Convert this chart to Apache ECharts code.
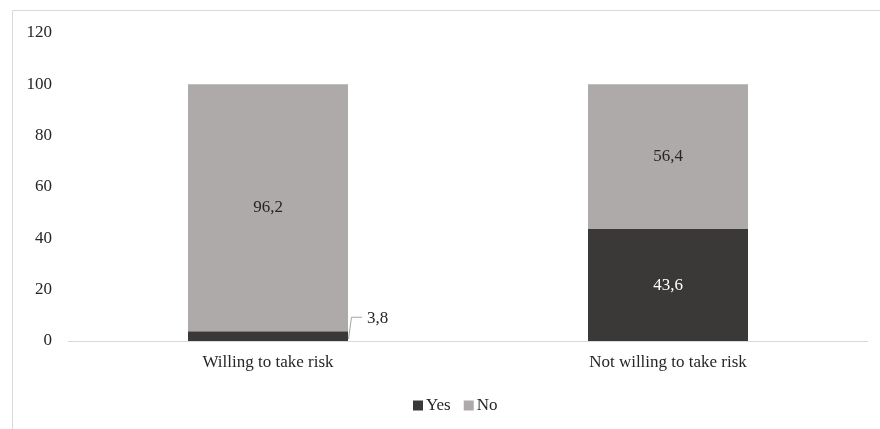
<!DOCTYPE html>
<html>
<head>
<meta charset="utf-8">
<script src="https://cdn.jsdelivr.net/npm/echarts@6/dist/echarts.min.js"></script>
<style>
  html, body { margin: 0; padding: 0; background: #ffffff; }
  #chart { width: 880px; height: 429px; }
</style>
</head>
<body>
<div id="chart"></div>
<script>
// Share of respondents answering Yes / No, by risk attitude (percent)
const categories = ['Willing to take risk', 'Not willing to take risk'];
const yesValues = [3.8, 43.6];
const noValues = [96.2, 56.4];
const yTicks = [0, 20, 40, 60, 80, 100, 120];

const FONT = '"Liberation Serif", "DejaVu Serif", serif';
const DARK = '#3b3838';
const GRAY = '#aeaaaa';
const TEXT = '#262626';
const BAR_RATIO = 0.4;

const fmt = v => String(v).replace('.', ',');

const chart = echarts.init(document.getElementById('chart'), null, { renderer: 'canvas' });

chart.setOption({
  animation: false,
  backgroundColor: '#ffffff',
  textStyle: { fontFamily: FONT },
  grid: { left: 68, right: 12, top: 33, bottom: 88, containLabel: false },
  legend: {
    bottom: 10,
    left: 408,
    itemWidth: 10,
    itemHeight: 10,
    itemGap: 13,
    icon: 'rect',
    textStyle: { fontFamily: FONT, fontSize: 17, color: TEXT, padding: [0, 0, 0, -2] },
    data: ['Yes', 'No']
  },
  xAxis: {
    type: 'category',
    data: categories,
    axisLine: { lineStyle: { color: '#d9d9d9', width: 1 } },
    axisTick: { show: false },
    axisLabel: { fontFamily: FONT, fontSize: 17, color: TEXT, margin: 13 }
  },
  yAxis: {
    type: 'value',
    min: yTicks[0],
    max: yTicks[yTicks.length - 1],
    interval: yTicks[1] - yTicks[0],
    splitLine: { show: false },
    axisLine: { show: false },
    axisTick: { show: false },
    axisLabel: { fontFamily: FONT, fontSize: 17, color: TEXT, margin: 16 }
  },
  series: [
    {
      name: 'Yes',
      type: 'bar',
      stack: 'total',
      barWidth: (BAR_RATIO * 100) + '%',
      itemStyle: { color: DARK },
      label: {
        show: true,
        fontFamily: FONT,
        fontSize: 17,
        formatter: p => fmt(p.value)
      },
      data: yesValues.map((v, i) => i === 0
        ? { value: v, label: { position: 'right', color: TEXT } }
        : { value: v, label: { position: 'inside', color: '#ffffff' } }),
      // the thin first segment carries its label outside, beside a leader line
      labelLayout: params => params.dataIndex === 0 ? {
        x: params.rect.x + params.rect.width + 19,
        y: params.rect.y - 13,
        align: 'left',
        verticalAlign: 'middle'
      } : {}
    },
    {
      name: 'No',
      type: 'bar',
      stack: 'total',
      barWidth: (BAR_RATIO * 100) + '%',
      itemStyle: { color: GRAY },
      label: {
        show: true,
        position: 'inside',
        fontFamily: FONT,
        fontSize: 17,
        color: TEXT,
        formatter: p => fmt(p.value)
      },
      data: noValues
    }
  ]
});

// Frame around the chart area and the leader line for the small "Yes" segment
const x0 = chart.convertToPixel({ xAxisIndex: 0 }, 0);
const x1 = chart.convertToPixel({ xAxisIndex: 0 }, 1);
const barRight = x0 + (x1 - x0) * BAR_RATIO / 2;
const yZero = chart.convertToPixel({ yAxisIndex: 0 }, 0);
const yTop = chart.convertToPixel({ yAxisIndex: 0 }, yesValues[0]);

chart.setOption({
  graphic: [
    {
      type: 'rect',
      shape: { x: 12.5, y: 10.5, width: 900, height: 500 },
      style: { fill: 'none', stroke: '#d9d9d9', lineWidth: 1 },
      silent: true,
      z: -1
    },
    {
      type: 'polyline',
      shape: {
        points: [
          [barRight + 0.5, yZero - 2],
          [barRight + 3.5, yTop - 14],
          [barRight + 14, yTop - 14]
        ]
      },
      style: { fill: 'none', stroke: '#a6a6a6', lineWidth: 1 },
      silent: true,
      z: 10
    }
  ]
});
</script>
</body>
</html>
